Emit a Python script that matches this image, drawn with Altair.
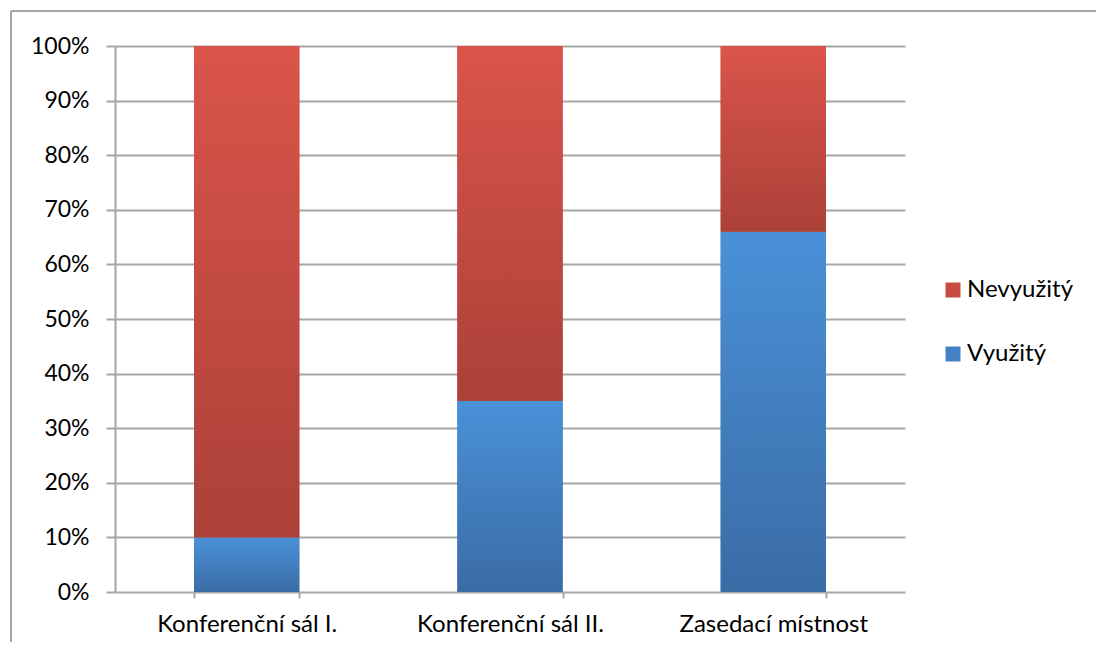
import altair as alt
import pandas as pd

rooms = ["Konferenční sál I.", "Konferenční sál II.", "Zasedací místnost"]
series = ["Nevyužitý", "Využitý"]
used = [10, 35, 66]
unused = [90, 65, 34]
y_ticks = [0, 0.1, 0.2, 0.3, 0.4, 0.5, 0.6, 0.7, 0.8, 0.9, 1.0]

rows = []
for r, u, n in zip(rooms, used, unused):
    rows.append({"room": r, "series": "Využitý", "value": u, "ord": 0})
    rows.append({"room": r, "series": "Nevyužitý", "value": n, "ord": 1})
df = pd.DataFrame(rows)

red_grad = {"gradient": "linear", "x1": 0, "y1": 0, "x2": 0, "y2": 1,
            "stops": [{"offset": 0, "color": "#DA544A"}, {"offset": 1, "color": "#AB4138"}]}
blue_grad = {"gradient": "linear", "x1": 0, "y1": 0, "x2": 0, "y2": 1,
             "stops": [{"offset": 0, "color": "#4A91D8"}, {"offset": 1, "color": "#3A6CA5"}]}

FONT = "Lato"
GRID = "#A6A6A6"

x_enc = alt.X("room:N", sort=rooms, title=None,
              scale=alt.Scale(paddingInner=0.6, paddingOuter=0.3),
              axis=alt.Axis(labelAngle=0, tickBand="extent", grid=False,
                            domain=False, tickSize=6, tickColor=GRID, tickWidth=2,
                            labelFontSize=24, labelFont=FONT, labelColor="#000000",
                            labelPadding=14, labelLimit=400))
y_enc = alt.Y("value:Q", stack="normalize", title=None,
              scale=alt.Scale(domain=[0, 1]),
              axis=alt.Axis(values=y_ticks, format=".0%", gridColor=GRID, gridWidth=2,
                            domainColor=GRID, domainWidth=2, tickColor=GRID, tickWidth=2,
                            tickSize=9, labelFontSize=23, labelFont=FONT,
                            labelColor="#000000", labelPadding=17))

base = alt.Chart(df)

legend_layer = base.mark_bar().encode(
    x=x_enc,
    y=y_enc,
    order=alt.Order("ord:Q"),
    color=alt.Color("series:N", title=None,
                    scale=alt.Scale(domain=series, range=["#C84B42", "#4380C4"]),
                    legend=alt.Legend(orient="none", legendX=826, legendY=232,
                                      symbolType="square", symbolSize=225,
                                      symbolStrokeWidth=0,
                                      labelFontSize=24, labelFont=FONT,
                                      labelColor="#000000", rowPadding=40,
                                      labelOffset=2, padding=0, labelLimit=300)),
)

grad_layer = base.mark_bar().encode(
    x=x_enc,
    y=y_enc,
    order=alt.Order("ord:Q"),
    fill=alt.condition(alt.datum.series == "Využitý", alt.value(blue_grad), alt.value(red_grad)),
)

one = alt.Chart(pd.DataFrame({"a": [0]}))
top_border = one.mark_rule(color=GRID, strokeWidth=2).encode(
    x=alt.value(-104), x2=alt.value(1000), y=alt.value(-35))
left_border = one.mark_rule(color=GRID, strokeWidth=2).encode(
    x=alt.value(-104), y=alt.value(-35), y2=alt.value(620))

chart = alt.layer(legend_layer, grad_layer, top_border, left_border).properties(
    width=790, height=546,
    padding={"left": 107, "top": 38, "right": 191, "bottom": 50},
    autosize=alt.AutoSizeParams(type="none"),
).configure_view(strokeWidth=0)

chart.save("out.html", embed_options={"renderer": "svg", "actions": False})
